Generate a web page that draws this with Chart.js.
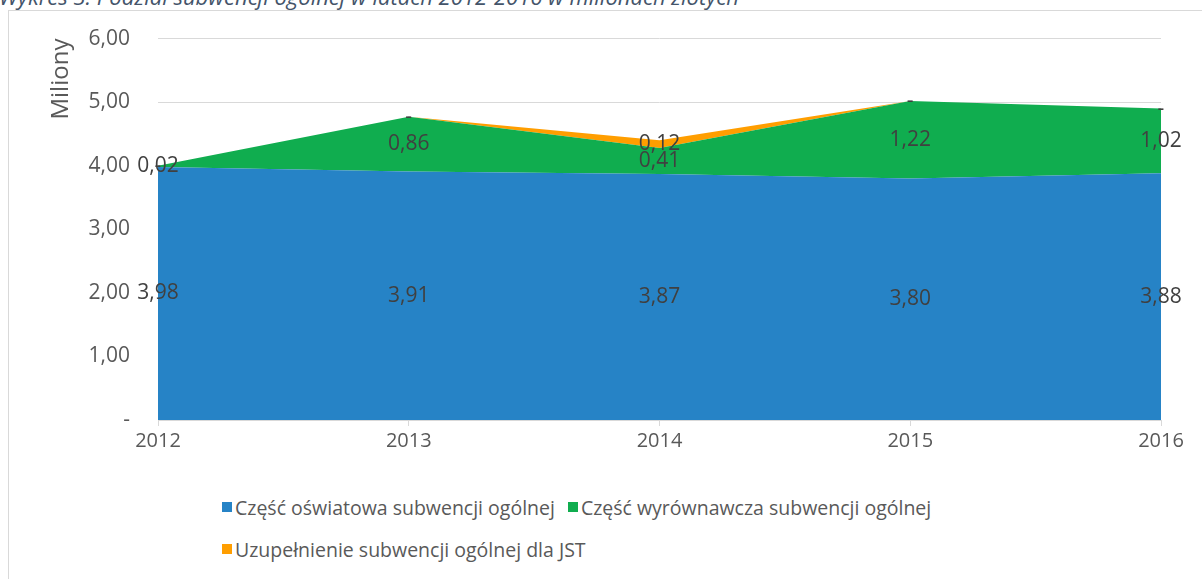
<!DOCTYPE html>
<html>
<head>
<meta charset="utf-8">
<script src="https://cdn.jsdelivr.net/npm/chart.js@4"></script>
<style>
  body { margin: 0; background: #fff; width: 1202px; height: 579px; overflow: hidden; position: relative; font-family: "Open Sans", sans-serif; }
  #title { position: absolute; left: -1px; top: -15px; font-style: italic; font-size: 22px; line-height: 22px; color: #44546a; white-space: nowrap; }
  #frame { position: absolute; left: 8px; top: 10px; width: 1300px; height: 700px; border-left: 1px solid #d9d9d9; border-top: 1px solid #d9d9d9; }
  #wrap { position: absolute; left: 9px; top: -2px; width: 1193px; height: 463px; }
  #legend { position: absolute; left: 222px; top: 494px; width: 860px; display: flex; flex-wrap: wrap; row-gap: 16px; }
  .item { display: flex; align-items: center; margin-right: 13px; font-size: 19.5px; color: #595959; height: 26px; }
  .box { width: 10px; height: 10px; margin-right: 3px; }
</style>
</head>
<body>
<div id="title">Wykres 3. Podział subwencji ogólnej w latach 2012-2016 w milionach złotych</div>
<div id="frame"></div>
<div id="wrap"><canvas id="chart"></canvas></div>
<div id="legend"></div>
<script>
//categories and values (miliony zł)
const years = ['2012', '2013', '2014', '2015', '2016'];
const oswiatowa = [3.98, 3.91, 3.87, 3.80, 3.88];
const wyrownawcza = [0.02, 0.86, 0.41, 1.22, 1.02];
const uzupelnienie = [0, 0, 0.12, 0, 0];

const seriesNames = ['Część oświatowa subwencji ogólnej', 'Część wyrównawcza subwencji ogólnej', 'Uzupełnienie subwencji ogólnej dla JST'];
const seriesColors = ['#2683c6', '#10ad4f', '#ff9e00'];
const yTicks = [0, 1, 2, 3, 4, 5, 6];

function fmt(v) {
    if (v === 0) return '-';
    return v.toFixed(2).replace('.', ',');
}

//value labels in the middle of each stacked band
const bandLabels = {
    id: 'bandLabels',
    afterDatasetsDraw(chart) {
        const ctx = chart.ctx;
        const yScale = chart.scales.y;
        const xScale = chart.scales.x;
        ctx.save();
        ctx.font = '21px "Open Sans"';
        ctx.fillStyle = '#404040';
        ctx.textAlign = 'center';
        ctx.textBaseline = 'middle';
        years.forEach((yr, i) => {
            let base = 0;
            chart.data.datasets.forEach(ds => {
                const v = ds.data[i];
                const px = xScale.getPixelForValue(i);
                const py = yScale.getPixelForValue(base + v / 2);
                ctx.fillText(fmt(v), px, py);
                base += v;
            });
        });
        ctx.restore();
    }
};

const datasets = [oswiatowa, wyrownawcza, uzupelnienie].map((d, i) => ({
    label: seriesNames[i],
    data: d,
    backgroundColor: seriesColors[i],
    borderColor: seriesColors[i],
    borderWidth: 0,
    pointRadius: 0,
    tension: 0,
    fill: i === 0 ? 'origin' : '-1'
}));

new Chart(document.getElementById('chart'), {
    type: 'line',
    data: { labels: years, datasets: datasets },
    options: {
        responsive: true,
        maintainAspectRatio: false,
        animation: false,
        layout: { padding: { top: 0, right: 41, bottom: 0, left: 0 } },
        plugins: {
            legend: { display: false },
            tooltip: { enabled: false }
        },
        scales: {
            x: {
                offset: false,
                grid: { drawOnChartArea: false, color: '#d9d9d9', tickLength: 6 },
                border: { color: '#d9d9d9' },
                ticks: { color: '#595959', font: { size: 20, family: 'Open Sans' }, padding: 3, maxRotation: 0 },
                afterFit(s) { s.height = 41; }
            },
            y: {
                stacked: true,
                min: 0,
                max: 6,
                afterBuildTicks(s) { s.ticks = yTicks.map(v => ({ value: v })); },
                grid: { color: '#d9d9d9', drawTicks: false },
                border: { display: false },
                ticks: {
                    color: '#595959',
                    font: { size: 21, family: 'Open Sans' },
                    padding: 28,
                    callback: v => fmt(v)
                },
                title: {
                    display: true,
                    text: 'Miliony',
                    align: 'end',
                    color: '#595959',
                    font: { size: 24, family: 'Open Sans' },
                    padding: { top: 38, bottom: 0 }
                },
                afterFit(s) { s.width = 149; }
            }
        }
    },
    plugins: [bandLabels]
});

//legend from the same arrays
const legend = document.getElementById('legend');
seriesNames.forEach((name, i) => {
    const item = document.createElement('div');
    item.className = 'item';
    const box = document.createElement('span');
    box.className = 'box';
    box.style.background = seriesColors[i];
    item.appendChild(box);
    item.appendChild(document.createTextNode(name));
    legend.appendChild(item);
});
</script>
</body>
</html>
